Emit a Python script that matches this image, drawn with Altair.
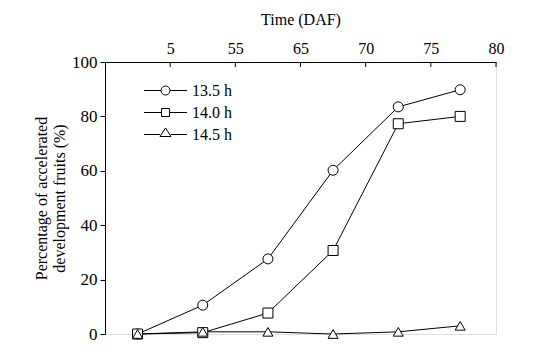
import altair as alt
import pandas as pd

# tick positions on the top axis and their printed labels
tick_pos = [1, 2, 3, 4, 5, 6]
tick_labels = ["5", "55", "65", "70", "75", "80"]

# sampling positions (in tick units)
x_pos = [0.5, 1.5, 2.5, 3.5, 4.5, 5.45]

series_names = ["13.5 h", "14.0 h", "14.5 h"]
vals_135 = [0, 10.6, 27.6, 60.2, 83.5, 89.8]
vals_140 = [0, 0.5, 7.7, 30.7, 77.3, 80.0]
vals_145 = [0, 0.8, 0.8, 0, 0.8, 3.0]

rows = []
for name, vals in zip(series_names, [vals_135, vals_140, vals_145]):
    for x, v in zip(x_pos, vals):
        rows.append({"series": name, "x": x, "y": v})
df = pd.DataFrame(rows)
ticks_df = pd.DataFrame({"pos": tick_pos})

FONT = "Liberation Serif"
label_map = "{" + ",".join(f"'{p}':'{l}'" for p, l in zip(tick_pos, tick_labels)) + "}"

xscale = alt.Scale(domain=[0, 6], nice=False, zero=False)
yscale = alt.Scale(domain=[0, 100], nice=False)

x_enc = alt.X(
    "x:Q", scale=xscale,
    axis=alt.Axis(orient="top", values=tick_pos, labelExpr=f"{label_map}[datum.value]",
                  title="Time (DAF)", ticks=False, grid=False, labelPadding=6,
                  titlePadding=13, labelFontSize=16, titleFontSize=16,
                  labelFont=FONT, titleFont=FONT, titleFontWeight="normal",
                  domainColor="black", labelColor="black", titleColor="black",
                  labelFlush=False, labelOverlap=False),
)
y_enc = alt.Y(
    "y:Q", scale=yscale,
    axis=alt.Axis(orient="left", values=[0, 20, 40, 60, 80, 100], grid=False,
                  tickSize=5, tickColor="black", domainColor="black",
                  labelPadding=3, labelFontSize=17, labelFont=FONT, labelColor="black",
                  title=["Percentage of accelerated", "development fruits (%)"],
                  titleFont=FONT, titleFontSize=16, titleFontWeight="normal",
                  titleColor="black", titlePadding=4, titleLineHeight=18),
)

shape_dom = series_names
lines = alt.Chart(df).mark_line(color="black", strokeWidth=1).encode(
    x=x_enc, y=y_enc, detail="series:N"
)
points = alt.Chart(df).mark_point(filled=True, fill="white", stroke="black",
                                  strokeWidth=1, size=100, opacity=1).encode(
    x="x:Q", y="y:Q",
    shape=alt.Shape("series:N", scale=alt.Scale(domain=shape_dom,
                    range=["circle", "square", "triangle-up"]), legend=None),
)

legend_paths = [
    "M-2.15,0H-0.45M0.45,0H2.15M-0.45,0A0.45,0.45,0,1,0,0.45,0A0.45,0.45,0,1,0,-0.45,0Z",
    "M-2.15,0H-0.4M0.4,0H2.15M-0.4,-0.4H0.4V0.4H-0.4Z",
    "M-2.15,0H-0.55M0.55,0H2.15M0,-0.65L0.55,0.2H-0.55Z",
]
legend_layer = alt.Chart(df).transform_filter("datum.x < -100").mark_point(
    filled=False, color="black", strokeWidth=1, size=400, opacity=1
).encode(
    x="x:Q", y="y:Q",
    shape=alt.Shape("series:N", scale=alt.Scale(domain=shape_dom, range=legend_paths),
                    legend=alt.Legend(title=None, orient="none", legendX=50, legendY=18,
                                      labelFont=FONT, labelFontSize=16, labelColor="black",
                                      labelOffset=16, rowPadding=3, padding=0,
                                      symbolSize=400, symbolStrokeWidth=1,
                                      symbolStrokeColor="black", symbolOpacity=1)),
)

tick_rules = alt.Chart(ticks_df).mark_rule(color="black", strokeWidth=1).encode(
    x=alt.X("pos:Q", scale=xscale), y=alt.value(0), y2=alt.value(5)
)

chart = alt.layer(lines, tick_rules, points, legend_layer).resolve_scale(
    shape="independent"
).properties(
    width=391, height=272,
    autosize=alt.AutoSizeParams(type="none"),
    padding={"left": 97, "top": 54, "right": 30, "bottom": 10},
).configure_view(stroke=None).configure(background="white")

chart.save("out.html", embed_options={"renderer": "svg", "actions": False})
